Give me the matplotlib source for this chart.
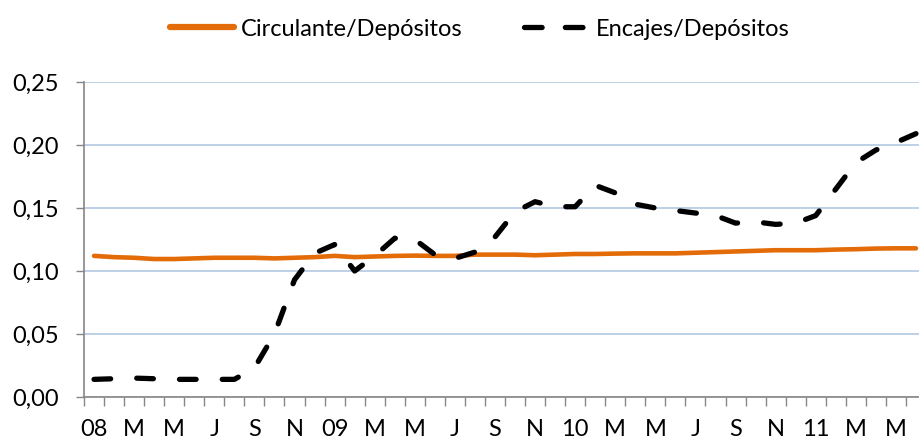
import numpy as np
import matplotlib.pyplot as plt
from matplotlib.lines import Line2D

plt.rcParams['font.family'] = ['Lato', 'DejaVu Sans']

# monthly data, Jan 2008 - Jun 2011
circulante = [0.112, 0.111, 0.1105, 0.1095, 0.1095, 0.110, 0.1105, 0.1105, 0.1105, 0.110,
              0.1105, 0.111, 0.112, 0.111, 0.1115, 0.112, 0.1122, 0.112, 0.112, 0.113,
              0.113, 0.113, 0.1125, 0.113, 0.1135, 0.1135, 0.1138, 0.114, 0.114, 0.114,
              0.1145, 0.115, 0.1155, 0.116, 0.1165, 0.1165, 0.1165, 0.117, 0.1173, 0.1178,
              0.118, 0.118]
encajes = [0.014, 0.0145, 0.015, 0.0145, 0.014, 0.014, 0.014, 0.014, 0.023, 0.050,
           0.093, 0.114, 0.121, 0.100, 0.112, 0.126, 0.125, 0.113, 0.110, 0.115,
           0.127, 0.147, 0.155, 0.151, 0.151, 0.168, 0.162, 0.153, 0.150, 0.148,
           0.146, 0.144, 0.138, 0.139, 0.137, 0.138, 0.144, 0.165, 0.186, 0.196,
           0.202, 0.209]
etiquetas = ['08', 'M', 'M', 'J', 'S', 'N', '09', 'M', 'M', 'J', 'S', 'N',
             '10', 'M', 'M', 'J', 'S', 'N', '11', 'M', 'M']

naranja = '#E36C09'
fs = 17
x = np.arange(len(circulante))

fig = plt.figure(figsize=(9.2, 4.41), dpi=100)
ax = fig.add_axes([84 / 920, 44 / 441, 842 / 920, 315 / 441])

ax.plot(x, circulante, color=naranja, lw=3.3, solid_capstyle='round', zorder=3)
ax.plot(x, encajes, color='black', lw=3.8, dashes=(3.15, 4.95), dash_capstyle='round', zorder=4)

ax.set_xlim(-0.5, len(x) - 0.5)
ax.set_ylim(0, 0.25)
yt = np.arange(0, 0.26, 0.05)
ax.set_yticks(yt)
ax.set_yticklabels([('%.2f' % v).replace('.', ',') for v in yt], fontsize=fs)
ax.grid(True, axis='y', color='#B9CDE5', lw=1.3)
ax.set_axisbelow(True)

ax.set_xticks(np.arange(-0.5, len(x), 1.0))
ax.set_xticklabels([])
ax.set_xticks(np.arange(0, len(x), 2), minor=True)
ax.set_xticklabels(etiquetas, minor=True, fontsize=fs)
ax.tick_params(axis='x', which='major', length=6.5, width=1, color='#868686', direction='out')
ax.tick_params(axis='x', which='minor', length=0, pad=16)
ax.tick_params(axis='y', length=6, width=1, color='#868686', pad=12)

for s in ['top', 'right']:
    ax.spines[s].set_visible(False)
for s in ['left', 'bottom']:
    ax.spines[s].set_color('#868686')
    ax.spines[s].set_linewidth(1.2)

# leyenda: una por serie para controlar la posicion
h1 = Line2D([], [], color=naranja, lw=4.5, solid_capstyle='round')
h2 = Line2D([], [], color='black', lw=3.8, dashes=(3.34, 4.4), dash_capstyle='round')
leg1 = fig.legend(handles=[h1], labels=['Circulante/Depósitos'], loc='center left',
                  bbox_to_anchor=(170 / 920, 1 - 29 / 441), frameon=False, fontsize=fs,
                  handlelength=2.7, handletextpad=0.3, borderpad=0, borderaxespad=0)
leg2 = fig.legend(handles=[h2], labels=['Encajes/Depósitos'], loc='center left',
                  bbox_to_anchor=(524 / 920, 1 - 29 / 441), frameon=False, fontsize=fs,
                  handlelength=2.5, handletextpad=0.55, borderpad=0, borderaxespad=0)

fig.savefig('out.png', dpi=100)
